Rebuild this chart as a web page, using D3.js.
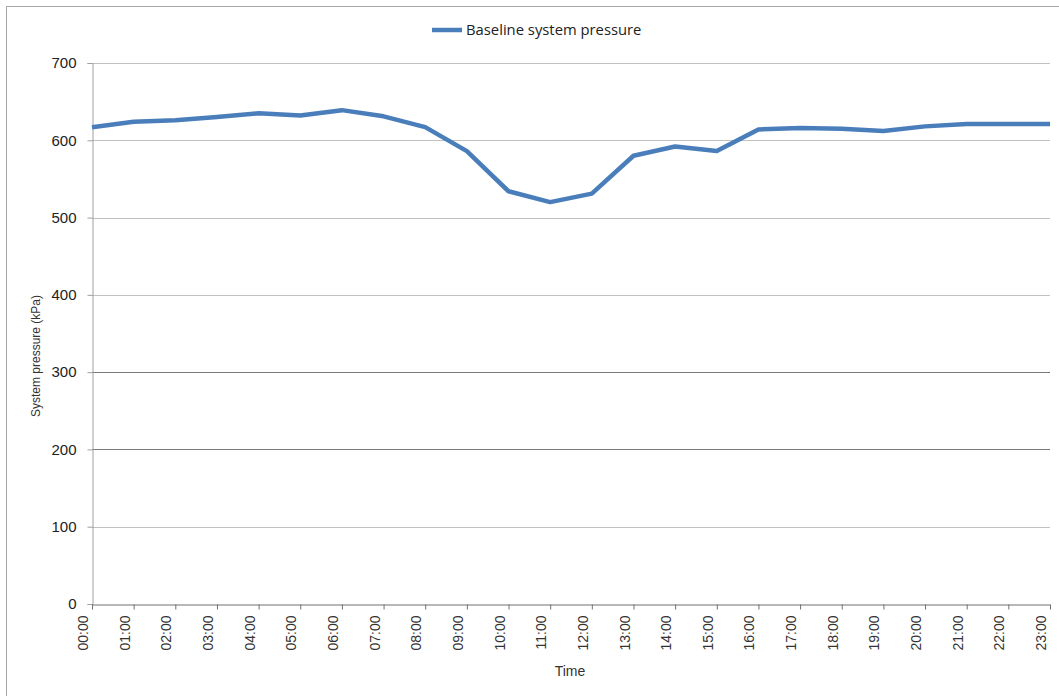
<!DOCTYPE html>
<html><head><meta charset="utf-8">
<script src="https://cdn.jsdelivr.net/npm/d3@7"></script>
<style>body{margin:0;background:#fff}svg{display:block}</style>
</head><body>
<svg id="c" width="1059" height="696"></svg>
<script>
const categories = ["00:00","01:00","02:00","03:00","04:00","05:00","06:00","07:00","08:00","09:00","10:00","11:00","12:00","13:00","14:00","15:00","16:00","17:00","18:00","19:00","20:00","21:00","22:00","23:00"];
const pressure = [617,624,626,630,635,632,639,631,617,586,534,520,531,580,592,586,614,616,615,612,618,621,621,621];
const yTicks = [0,100,200,300,400,500,600,700];
const seriesName = "Baseline system pressure";
const yTitle = "System pressure (kPa)";
const xTitle = "Time";

const svg = d3.select("#c");
const m = {l:92, r:1050, t:63, b:604};
const x = d3.scalePoint().domain(categories).range([m.l, m.r]);
const y = d3.scaleLinear().domain([0,700]).range([m.b, m.t]);
const font = "'Liberation Sans', Arial, sans-serif";
const font2 = "'Open Sans', 'Liberation Sans', sans-serif";

// outer border
svg.append("rect").attr("x",6.5).attr("y",6.5).attr("width",1060).attr("height",700)
  .attr("fill","none").attr("stroke","#a6a6a6").attr("stroke-width",1);

// gridlines
svg.append("g").selectAll("line").data(yTicks.filter(d=>d>0)).join("line")
  .attr("x1",m.l).attr("x2",m.r)
  .attr("y1",d=>Math.round(y(d))+0.5).attr("y2",d=>Math.round(y(d))+0.5)
  .attr("stroke",d=>(d===300||d===200)?"#7a7a7a":"#c0c0c0").attr("stroke-width",1);

// y axis
const ya = svg.append("g").attr("transform",`translate(${m.l+0.5},0)`)
  .call(d3.axisLeft(y).tickValues(yTicks).tickSize(5).tickPadding(11).tickFormat(d3.format("d")));
ya.select(".domain").attr("stroke","#a0a0a0");
ya.selectAll(".tick line").attr("stroke","#a0a0a0");
ya.selectAll("text").attr("font-family",font).attr("font-size",15).attr("fill","#222");

// x axis
const xa = svg.append("g").attr("transform",`translate(0,${m.b+0.5})`)
  .call(d3.axisBottom(x).tickSize(5).tickSizeOuter(0));
xa.select(".domain").attr("stroke","#707070");
xa.selectAll(".tick line").attr("stroke","#707070");
xa.selectAll("text").attr("font-family",font).attr("font-size",14).attr("fill","#333")
  .attr("transform","rotate(-90)").attr("text-anchor","end").attr("dx","-11").attr("dy","-0.32em")
  .attr("x",0).attr("y",0);

// line
svg.append("path").datum(pressure)
  .attr("d", d3.line().x((d,i)=>x(categories[i])).y(d=>y(d)))
  .attr("fill","none").attr("stroke","#4a7ebb").attr("stroke-width",4.5)
  .attr("stroke-linejoin","round").attr("stroke-linecap","butt");

// axis titles
svg.append("text").attr("transform","translate(40,356) rotate(-90)").attr("text-anchor","middle")
  .attr("font-family",font).attr("font-size",12).attr("fill","#333").text(yTitle);
svg.append("text").attr("x",570).attr("y",676).attr("text-anchor","middle")
  .attr("font-family",font).attr("font-size",14).attr("fill","#333").text(xTitle);

// legend
svg.append("line").attr("x1",432).attr("x2",462).attr("y1",30).attr("y2",30)
  .attr("stroke","#4a7ebb").attr("stroke-width",4.5);
svg.append("text").attr("x",466).attr("y",35).attr("font-family",font2).attr("font-size",14.8)
  .attr("fill","#222").text(seriesName);
</script>
</body></html>
